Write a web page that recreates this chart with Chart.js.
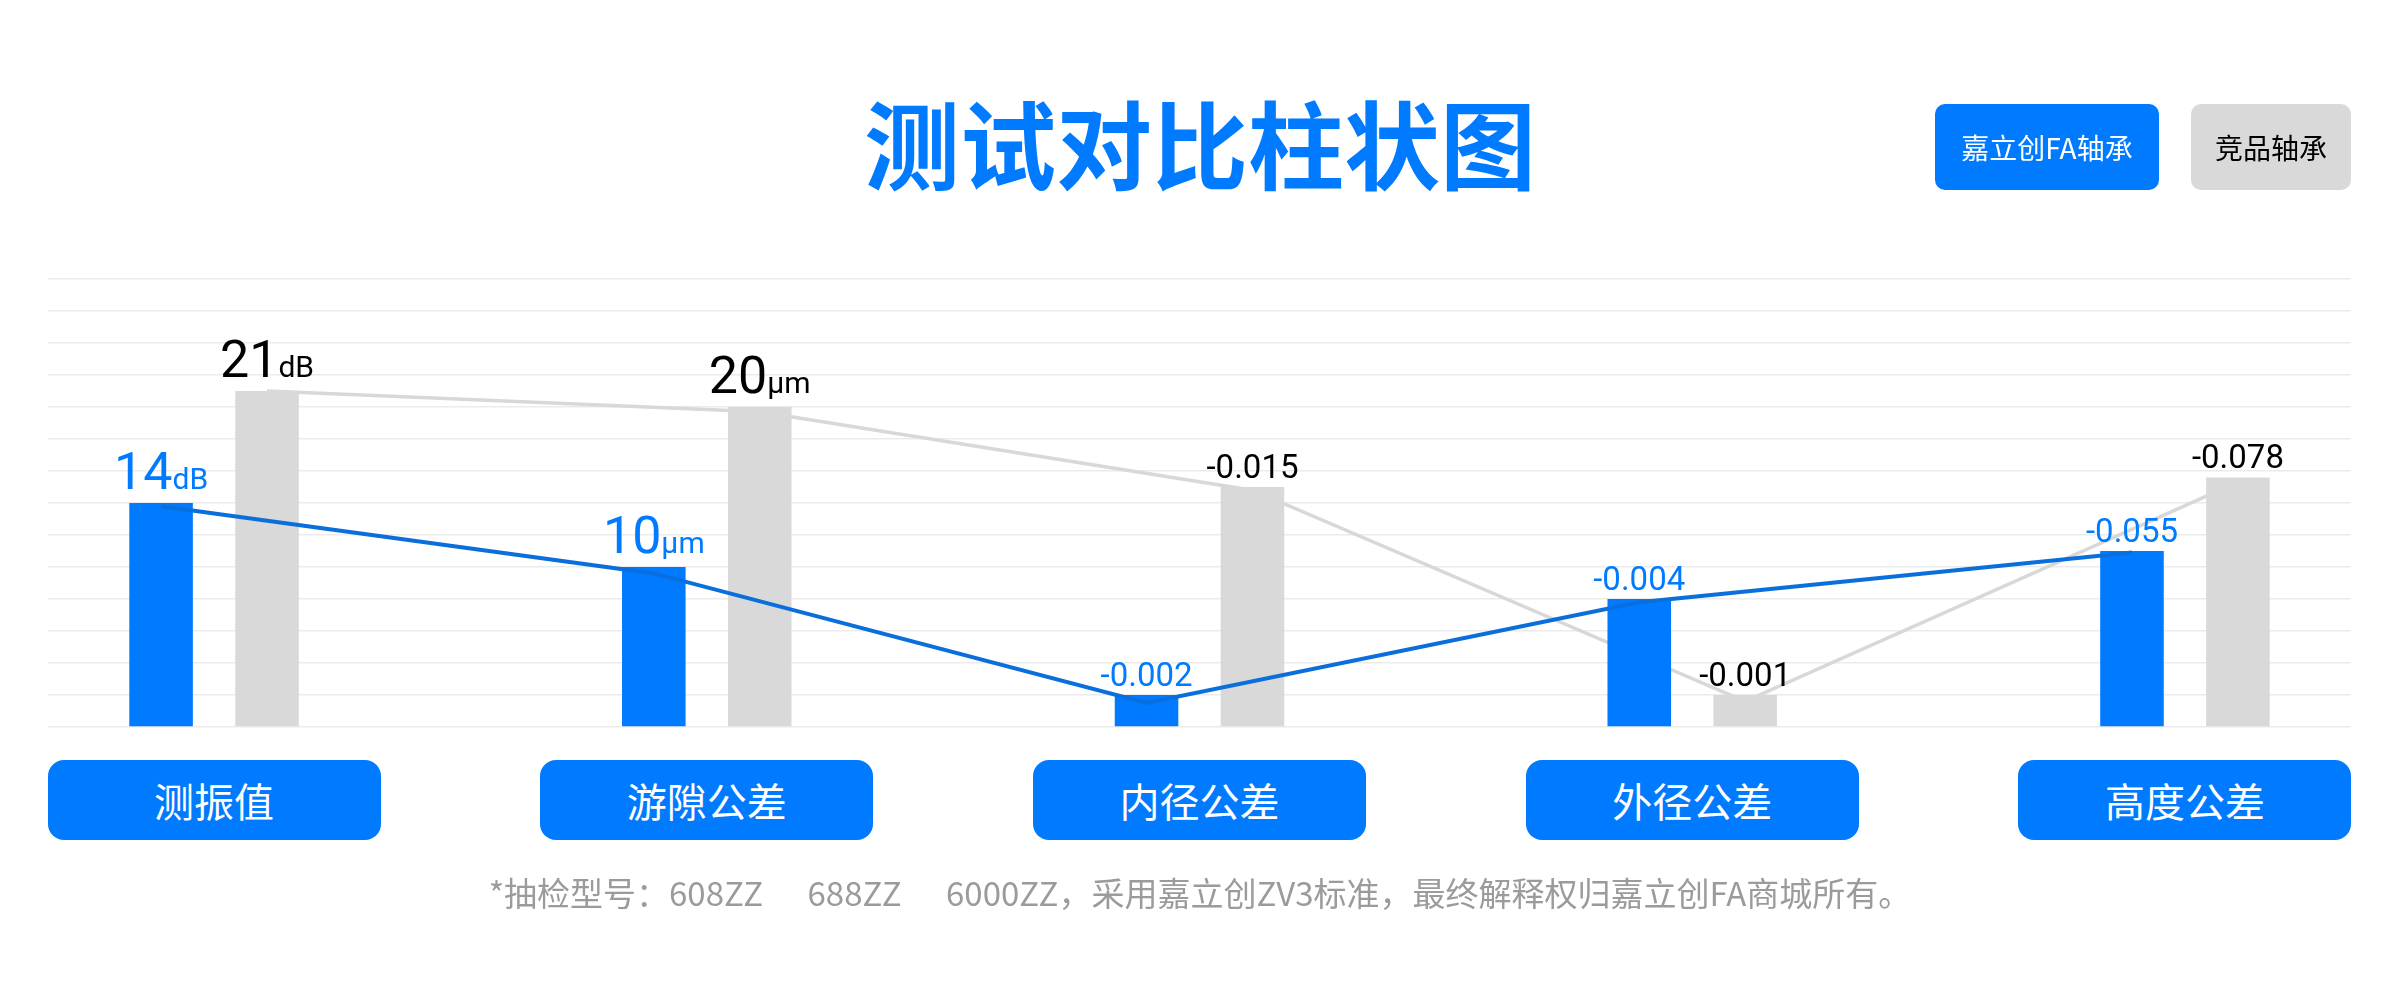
<!DOCTYPE html>
<html>
<head>
<meta charset="utf-8">
<title>测试对比柱状图</title>
<script src="https://cdn.jsdelivr.net/npm/chart.js@4.4.1/dist/chart.umd.min.js"></script>
<style>
  html, body { margin: 0; padding: 0; background: #fff; }
  #page { position: relative; width: 2400px; height: 994px; overflow: hidden;
          font-family: "Noto Sans CJK SC", "Noto Sans", sans-serif; }
  #chartBox { position: absolute; left: 0; top: 0; width: 2400px; height: 994px; }
  .title { position: absolute; left: 0; width: 2400px; top: 91px; height: 100px; line-height: 100px;
           text-align: center; font-size: 96px; font-weight: 700; color: #007aff; }
  .legend { position: absolute; top: 104px; height: 86px; border-radius: 10px; display: flex;
            align-items: center; justify-content: center; font-size: 28px; }
  .legend.ours { left: 1935px; width: 224px; background: #007aff; color: #fff; }
  .legend.rival { left: 2191px; width: 160px; background: #d9d9d9; color: #000; }
  .pill { position: absolute; top: 760px; width: 333px; height: 80px; border-radius: 16px;
          background: #007aff; color: #fff; font-size: 40px; display: flex;
          align-items: center; justify-content: center; }
  .foot { position: absolute; left: 0; width: 2400px; top: 868px; text-align: center;
          font-size: 33px; color: #9b9b9b; white-space: pre; }
</style>
</head>
<body>
<div id="page">
  <div id="chartBox"><canvas id="chart"></canvas></div>
  <div class="title">测试对比柱状图</div>
  <div class="legend ours" id="legendOurs"></div>
  <div class="legend rival" id="legendRival"></div>
  <div id="pills"></div>
  <div class="foot">*抽检型号：608ZZ      688ZZ      6000ZZ，采用嘉立创ZV3标准，最终解释权归嘉立创FA商城所有。</div>
</div>
<script>
// categories and series
const categories = ["测振值", "游隙公差", "内径公差", "外径公差", "高度公差"];
const seriesNames = ["嘉立创FA轴承", "竞品轴承"];

// bar heights in grid steps
const ourBars = [7, 5, 1, 4, 5.5];
const rivalBars = [10.5, 10, 7.5, 1, 7.8];

// trend lines, points sit just on the bar tops
const ourLine = [6.9, 4.8, 0.75, 3.9, 5.45];
const rivalLine = [10.5, 9.85, 7.4, 0.8, 7.65];

// value tags printed above the bars
const ourTags = ["14", "10", "-0.002", "-0.004", "-0.055"];
const rivalTags = ["21", "20", "-0.015", "-0.001", "-0.078"];
const tagUnits = ["dB", "μm", "", "", ""];

const gridSteps = 14;

const BLUE = "#007aff";
const GREY = "#d9d9d9";
const CAT_PCT = 0.43;
const BAR_PCT = 0.6;
const LINE_SHIFT = CAT_PCT / 4; // half a bar slot, so the line hits bar centres

document.getElementById("legendOurs").textContent = seriesNames[0];
document.getElementById("legendRival").textContent = seriesNames[1];

// draws the value tags over each bar
const tagPlugin = {
  id: "barTags",
  afterDatasetsDraw(chart) {
    const ctx = chart.ctx;
    [[0, ourTags, BLUE], [1, rivalTags, "#000"]].forEach(([di, tags, color]) => {
      chart.getDatasetMeta(di).data.forEach((bar, i) => {
        const unit = tagUnits[i];
        ctx.save();
        ctx.fillStyle = color;
        ctx.textBaseline = "alphabetic";
        if (unit) {
          ctx.font = "400 52px Roboto";
          const w1 = ctx.measureText(tags[i]).width;
          ctx.font = "400 30px Roboto";
          const w2 = ctx.measureText(unit).width;
          const x0 = bar.x - (w1 + w2) / 2;
          const y = bar.y - 14;
          ctx.textAlign = "left";
          ctx.font = "400 52px Roboto";
          ctx.fillText(tags[i], x0, y);
          ctx.font = "400 30px Roboto";
          ctx.fillText(unit, x0 + w1, y);
        } else {
          ctx.font = "400 33px Roboto";
          ctx.textAlign = "center";
          ctx.fillText(tags[i], bar.x, bar.y - 9);
        }
        ctx.restore();
      });
    });
  }
};

const idx = categories.map((c, i) => i);

const chart = new Chart(document.getElementById("chart"), {
  type: "bar",
  data: {
    datasets: [
      {
        label: seriesNames[0],
        data: idx.map(i => ({ x: i, y: ourBars[i] })),
        backgroundColor: BLUE,
        categoryPercentage: CAT_PCT,
        barPercentage: BAR_PCT,
        order: 1
      },
      {
        label: seriesNames[1],
        data: idx.map(i => ({ x: i, y: rivalBars[i] })),
        backgroundColor: GREY,
        categoryPercentage: CAT_PCT,
        barPercentage: BAR_PCT,
        order: 1
      },
      {
        type: "line",
        data: idx.map(i => ({ x: i - LINE_SHIFT, y: ourLine[i] })),
        borderColor: "#0a6fdc",
        borderWidth: 4,
        pointRadius: 0,
        tension: 0,
        order: 0
      },
      {
        type: "line",
        data: idx.map(i => ({ x: i + LINE_SHIFT, y: rivalLine[i] })),
        borderColor: "#d8d8d8",
        borderWidth: 3.5,
        pointRadius: 0,
        tension: 0,
        order: 2
      }
    ]
  },
  options: {
    responsive: true,
    maintainAspectRatio: false,
    animation: false,
    layout: { padding: { left: 48, right: 49, top: 279, bottom: 267 } },
    plugins: { legend: { display: false }, tooltip: { enabled: false } },
    scales: {
      x: {
        type: "linear",
        display: false,
        offset: false,
        min: -0.337,
        max: 4.337,
        afterBuildTicks: scale => { scale.ticks = idx.map(v => ({ value: v })); }
      },
      y: {
        min: 0,
        max: gridSteps,
        ticks: { display: false, stepSize: 1 },
        border: { display: false },
        grid: { color: "#ebebeb", lineWidth: 1.5, drawTicks: false }
      }
    }
  },
  plugins: [tagPlugin]
});

// category pills sit under each group, placed from the x scale
const pillBox = document.getElementById("pills");
categories.forEach((name, i) => {
  const el = document.createElement("div");
  el.className = "pill";
  el.textContent = name;
  el.style.left = (chart.scales.x.getPixelForValue(i) - 166.5) + "px";
  pillBox.appendChild(el);
});
</script>
</body>
</html>
